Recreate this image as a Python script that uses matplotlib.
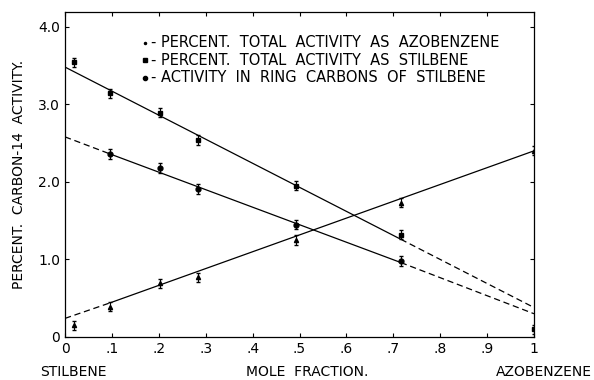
import matplotlib
matplotlib.use('Agg')
import matplotlib.pyplot as plt

# mole fraction azobenzene and measured activities (percent)
azo_x = [0.02, 0.096, 0.203, 0.284, 0.492, 0.716, 1.0]
azo_y = [0.15, 0.39, 0.69, 0.77, 1.25, 1.73, 2.40]

stil_x = [0.02, 0.096, 0.203, 0.284, 0.492, 0.716, 1.0]
stil_y = [3.54, 3.14, 2.89, 2.54, 1.95, 1.32, 0.10]

ring_x = [0.096, 0.203, 0.284, 0.492, 0.716]
ring_y = [2.36, 2.18, 1.91, 1.45, 0.98]

err = 0.06

# fitted lines: solid part then dashed extrapolation
azo_solid = ([0.096, 1.0], [0.44, 2.40])
azo_dash = ([0.0, 0.096], [0.24, 0.44])
stil_solid = ([0.0, 0.716], [3.48, 1.26])
stil_dash = ([0.716, 1.0], [1.26, 0.38])
ring_solid = ([0.096, 0.716], [2.36, 0.96])
ring_dash_left = ([0.0, 0.096], [2.58, 2.36])
ring_dash_right = ([0.716, 1.0], [0.96, 0.30])

xticks = [0, 0.1, 0.2, 0.3, 0.4, 0.5, 0.6, 0.7, 0.8, 0.9, 1.0]
xticklabels = ['0', '.1', '.2', '.3', '.4', '.5', '.6', '.7', '.8', '.9', '1']
yticks = [0, 1, 2, 3, 4]
yticklabels = ['0', '1.0', '2.0', '3.0', '4.0']

legend_labels = [
    '- PERCENT.  TOTAL  ACTIVITY  AS  AZOBENZENE',
    '- PERCENT.  TOTAL  ACTIVITY  AS  STILBENE',
    '- ACTIVITY  IN  RING  CARBONS  OF  STILBENE',
]

plt.rcParams['font.family'] = ['DejaVu Sans']
fig = plt.figure(figsize=(5.94, 3.80), dpi=100)
ax = fig.add_axes([65 / 594, 43 / 380, 469 / 594, 325 / 380])

k = 'black'
for xs, ys in (azo_solid, stil_solid, ring_solid):
    ax.plot(xs, ys, color=k, lw=0.9)
for xs, ys in (azo_dash, stil_dash, ring_dash_left, ring_dash_right):
    ax.plot(xs, ys, color=k, lw=0.9, ls=(0, (5, 3)))

ax.errorbar(azo_x, azo_y, yerr=err, fmt='^', ms=3, color=k, capsize=1.5, elinewidth=0.8)
ax.errorbar(stil_x, stil_y, yerr=err, fmt='s', ms=3.5, color=k, capsize=1.5, elinewidth=0.8)
ax.errorbar(ring_x, ring_y, yerr=err, fmt='o', ms=3.5, color=k, capsize=1.5, elinewidth=0.8)

ax.set_xlim(0, 1.0)
ax.set_ylim(0, 4.19)
ax.set_xticks(xticks)
ax.set_xticklabels(xticklabels)
ax.set_yticks(yticks)
ax.set_yticklabels(yticklabels)
ax.tick_params(direction='in', length=3, width=0.8, labelsize=10,
               top=True, right=True)
for s in ax.spines.values():
    s.set_linewidth(0.9)

# legend drawn by hand
leg_y = [0.905, 0.852, 0.797]
markers = ['.', 's', 'o']
for yy, m, lab in zip(leg_y, markers, legend_labels):
    ax.plot([0.171], [yy], marker=m, ms=3, color=k, transform=ax.transAxes,
            clip_on=False)
    ax.text(0.183, yy, lab, transform=ax.transAxes, fontsize=10.5,
            va='center', ha='left')

ax.set_ylabel('PERCENT.  CARBON-14  ACTIVITY.', fontsize=10, labelpad=9)
fig.text(40 / 594, 8 / 380, 'STILBENE', fontsize=10, ha='left', va='center')
fig.text(307 / 594, 8 / 380, 'MOLE  FRACTION.', fontsize=10, ha='center', va='center')
fig.text(592 / 594, 8 / 380, 'AZOBENZENE', fontsize=10, ha='right', va='center')

fig.savefig('out.png', dpi=100)
